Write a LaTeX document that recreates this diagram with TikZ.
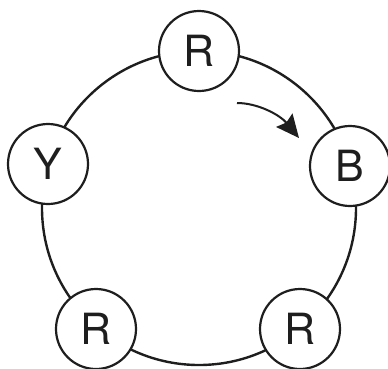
\documentclass[tikz,border=0pt]{standalone}
\usepackage{fontspec}
\setmainfont{TeX Gyre Heros}
\usetikzlibrary{arrows.meta}
\definecolor{ink}{HTML}{1E1E1E}
\begin{document}
\begin{tikzpicture}[x=1pt,y=-1pt,
  ball/.style={circle,draw=ink,line width=2.2pt,fill=white,minimum size=80pt,inner sep=0pt,font=\fontsize{43}{43}\selectfont,text=ink},
  ring/.style={draw=ink,line width=2.4pt}]
\useasboundingbox (0,0) rectangle (388,368);
\coordinate (c) at (199,208);
\draw[ring] (c) circle[radius=157];
\node[ball] (r1) at (199,51) {R};
\node[ball] (b) at (350,166) {B};
\node[ball] (r2) at (300,329) {R};
\node[ball] (r3) at (96,329) {R};
\node[ball] (y) at (48,164) {Y};
\coordinate (s) at (237,103);
\coordinate (e) at (299,138);
\draw[ink,line width=2pt,-{Stealth[length=23pt,width=21pt,inset=3pt]}] (s) .. controls (258,103) and (280,115) .. (e);
\end{tikzpicture}
\end{document}
